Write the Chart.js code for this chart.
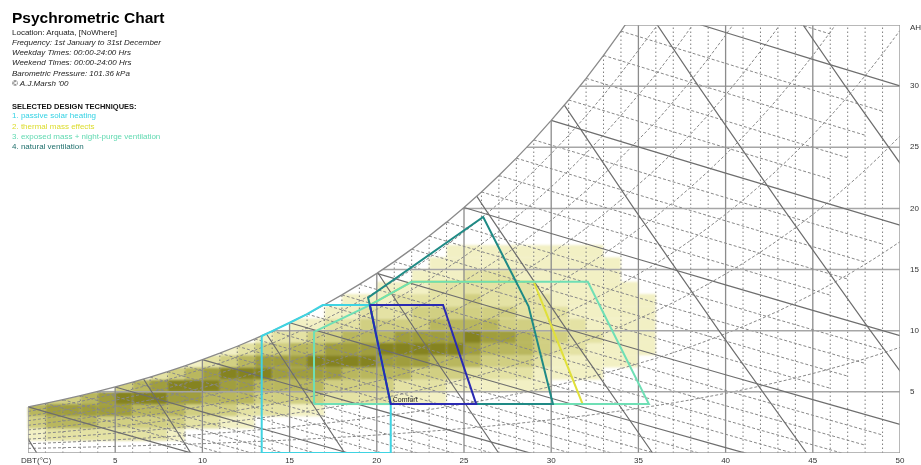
<!DOCTYPE html>
<html>
<head>
<meta charset="utf-8">
<title>Psychrometric Chart</title>
<script src="https://cdn.jsdelivr.net/npm/chart.js@4.4.1/dist/chart.umd.min.js"></script>
<style>
  html, body { margin:0; padding:0; background:#fff; }
  #wrap { position:relative; width:921px; height:465px; overflow:hidden; font-family:"Liberation Sans", Arial, sans-serif; }
  #chart { position:absolute; left:0; top:0; }
  .txt { position:absolute; left:12px; white-space:nowrap; line-height:1; font-size:8px; color:#222; }
  .i { font-style:italic; }
</style>
</head>
<body>
<div id="wrap">
  <canvas id="chart" width="921" height="465"></canvas>
  <div class="txt" style="top:10.2px;font-size:15.5px;font-weight:bold;color:#000;">Psychrometric Chart</div>
  <div class="txt" style="top:28.5px;">Location: Arquata, [NoWhere]</div>
  <div class="txt i" style="top:38.5px;">Frequency: 1st January to 31st December</div>
  <div class="txt i" style="top:48.5px;">Weekday Times: 00:00-24:00 Hrs</div>
  <div class="txt i" style="top:59px;">Weekend Times: 00:00-24:00 Hrs</div>
  <div class="txt i" style="top:69.7px;">Barometric Pressure: 101.36 kPa</div>
  <div class="txt i" style="top:79.7px;">© A.J.Marsh '00</div>
  <div class="txt" style="top:102.7px;font-weight:bold;font-size:7.5px;color:#111;">SELECTED DESIGN TECHNIQUES:</div>
  <div class="txt" style="top:112.4px;color:#34d2e4;">1. passive solar heating</div>
  <div class="txt" style="top:122.7px;color:#dcdc2c;">2. thermal mass effects</div>
  <div class="txt" style="top:132.7px;color:#62dab2;">3. exposed mass + night-purge ventilation</div>
  <div class="txt" style="top:142.7px;color:#1f6f6c;">4. natural ventilation</div>
</div>
<script>
// ---- axis ticks ----
const dbtTicks = [5, 10, 15, 20, 25, 30, 35, 40, 45, 50];
const ahTicks = [5, 10, 15, 20, 25, 30];

// ---- saturation moisture content (g/kg) at 101.36 kPa, per degree C ----
const satTemps = [0,1,2,3,4,5,6,7,8,9,10,11,12,13,14,15,16,17,18,19,20,21,22,23,24,25,
                  26,27,28,29,30,31,32,33,34,35,36,37,38,39,40,41,42,43,44,45,46,47,48,49,50];
const satAH = [3.77,4.06,4.36,4.69,5.03,5.40,5.79,6.21,6.65,7.13,7.63,8.16,8.73,9.33,9.97,
               10.65,11.36,12.12,12.93,13.79,14.69,15.65,16.67,17.74,18.88,20.08,21.35,22.69,
               24.11,25.61,27.20,28.87,30.64,32.51,34.50,36.60,38.69,41.02,43.48,46.07,48.81,
               51.70,54.76,57.99,61.40,65.00,68.82,72.86,77.11,81.62,86.39];

// ---- chart grid families ----
const rhLevels = [10, 20, 30, 40, 50, 60, 70, 80, 90];            // % saturation curves
const wetBulbTemps = [0,1,2,3,4,5,6,7,8,9,10,11,12,13,14,15,16,17,18,19,20,
                      21,22,23,24,25,26,27,28,29,30,31,32,33,34,35,36];
const volumeLevels = [0.775, 0.800, 0.825, 0.850, 0.875, 0.900, 0.925, 0.950];  // m3/kg
const pressure = 101.36;

// ---- hourly frequency, shade level per 1 C x 1 g/kg cell (row = g/kg, column = C) ----
const freqRows = [
  "000000000000000000000000000000000000",
  "122222221000000000000000000000000000",
  "344433333221100000000000000000000000",
  "455555444333222110000000000000000000",
  "033456665544433332222111000000000000",
  "000003456665544443333222111111000000",
  "000000023456665555444433322221111000",
  "000000000123455566665554443332111110",
  "000000000001233445556666654443221111",
  "000000000000012233444555565543322111",
  "000000000000000112233334444332221111",
  "000000000000000001122233333322211111",
  "000000000000000000111222232222111111",
  "000000000000000000001112222221111110",
  "000000000000000000000011122211111100",
  "000000000000000000000001111111111100",
  "000000000000000000000000111111111000"
];
const shadeColours = ["", "#f2f0c4", "#e4e2a4", "#d1cf82", "#b9b75e", "#a09e3e", "#858320"];

// ---- design technique zones (DBT C, AH g/kg) ----
const comfortZone   = [[19.6,12.1],[23.8,12.1],[25.7,4.0],[20.8,4.0]];
const passiveSolar  = [[13.4,0],[13.4,9.57],[14,9.97],[15,10.65],[16,11.36],[16.9,12.1],[19.6,12.1],[20.8,4.0],[20.8,0]];
const thermalMass   = [[20.8,4.0],[19.6,12.1],[22.0,14.0],[29.0,14.0],[31.8,4.0]];
const exposedMass   = [[16.4,4.0],[16.4,9.9],[19.6,12.1],[22.0,14.0],[32.1,14.0],[35.6,4.0]];
const naturalVent   = [[20.8,4.0],[19.6,12.1],[19.5,12.7],[26.1,19.3],[28.7,12.0],[30.1,4.0]];

const datasets = [];
function addLine(points, colour, width, dash, order, clipSat) {
  datasets.push({
    data: points, showLine: true, pointRadius: 0, borderColor: colour,
    borderWidth: width, borderDash: dash, order: order, clipSat: clipSat,
    tension: 0, fill: false
  });
}
function addZone(pairs, colour, order) {
  const pts = pairs.map(p => ({ x: p[0], y: p[1] }));
  pts.push({ x: pairs[0][0], y: pairs[0][1] });
  addLine(pts, colour, 2, [], order, false);
}

// zones, top-most first
addZone(comfortZone, "#2a2ab2", 0);
addZone(naturalVent, "#1f8a85", 1);
addZone(passiveSolar, "#3fd3e2", 2);
addZone(exposedMass, "#6fdfb5", 3);
addZone(thermalMass, "#e0e03a", 4);

// saturation curve and outline
addLine(satTemps.map((t, i) => ({ x: t, y: satAH[i] })), "#8a8a8a", 1.3, [], 9, false);
addLine([{x:0,y:0},{x:50,y:0}], "#a0a0a0", 1.5, [], 9, false);
addLine([{x:50,y:0},{x:50,y:35}], "#a0a0a0", 1.5, [], 9, false);
addLine([{x:0,y:35},{x:50,y:35}], "#a0a0a0", 1.5, [], 9, true);
addLine([{x:0,y:0},{x:0,y:satAH[0]}], "#a0a0a0", 1.5, [], 9, false);

// dry-bulb verticals
for (let t = 1; t < 50; t++) {
  const major = t % 5 === 0;
  addLine([{x:t,y:0},{x:t,y:35}], major ? "#8c8c8c" : "#7e7e7e", major ? 1.3 : 1,
          major ? [] : [1.5, 2.5], major ? 12 : 14, true);
}
// moisture content horizontals
ahTicks.forEach(w => addLine([{x:0,y:w},{x:50,y:w}], "#a6a6a6", 1.5, [], 12, true));

// percentage saturation curves
rhLevels.forEach(rh => {
  addLine(satTemps.map((t, i) => ({ x: t, y: satAH[i] * rh / 100 })), "#888", 1, [3, 2], 13, true);
});

// wet-bulb lines
wetBulbTemps.forEach(tw => {
  const ws = satAH[tw];
  const pts = [];
  for (let t = tw; t <= 50.001; t += 5) {
    const w = ((2501 - 2.326 * tw) * ws - 1006 * (t - tw)) / (2501 + 1.86 * t - 4.186 * tw);
    pts.push({ x: t, y: w });
  }
  const major = tw % 5 === 0;
  addLine(pts, major ? "#6e6e6e" : "#888", major ? 1.2 : 1, major ? [] : [3, 2], major ? 11 : 13, true);
});

// specific volume lines
volumeLevels.forEach(v => {
  const pts = [];
  for (let w = 0; w <= 40; w += 10) {
    pts.push({ x: v * pressure / (0.287055 * (1 + 1.6078 * w / 1000)) - 273.15, y: w });
  }
  addLine(pts, "#6e6e6e", 1.2, [], 11, true);
});

// region under the saturation curve
function saturationPath(chart) {
  const { ctx, chartArea: a } = chart;
  const { x, y } = chart.scales;
  ctx.beginPath();
  ctx.moveTo(a.left - 3, a.bottom + 3);
  ctx.lineTo(a.left - 3, y.getPixelForValue(satAH[0]));
  satTemps.forEach((t, i) => ctx.lineTo(x.getPixelForValue(t), y.getPixelForValue(satAH[i])));
  ctx.lineTo(a.right + 3, y.getPixelForValue(satAH[satAH.length - 1]));
  ctx.lineTo(a.right + 3, a.bottom + 3);
  ctx.closePath();
}

const satClipPlugin = {
  id: "satClip",
  beforeDatasetDraw(chart, args) {
    if (chart.data.datasets[args.index].clipSat) {
      chart.ctx.save();
      saturationPath(chart);
      chart.ctx.clip();
    }
  },
  afterDatasetDraw(chart, args) {
    if (chart.data.datasets[args.index].clipSat) chart.ctx.restore();
  }
};

const shadePlugin = {
  id: "frequencyShade",
  beforeDatasetsDraw(chart) {
    const { ctx } = chart;
    const { x, y } = chart.scales;
    const off = document.createElement("canvas");
    off.width = chart.width; off.height = chart.height;
    const o = off.getContext("2d");
    freqRows.forEach((row, w) => {
      for (let t = 0; t < row.length; t++) {
        const lv = +row[t];
        if (!lv) continue;
        const x0 = x.getPixelForValue(t), x1 = x.getPixelForValue(t + 1);
        const y0 = y.getPixelForValue(w + 1), y1 = y.getPixelForValue(w);
        o.fillStyle = shadeColours[lv];
        o.fillRect(x0, y0, x1 - x0, y1 - y0);
      }
    });
    ctx.save();
    saturationPath(chart);
    ctx.clip();
    ctx.filter = "blur(1px)";
    ctx.drawImage(off, 0, 0);
    ctx.restore();
  }
};

const labelPlugin = {
  id: "axisLabels",
  afterDraw(chart) {
    const { ctx } = chart;
    const { x, y } = chart.scales;
    ctx.save();
    ctx.fillStyle = "#333";
    ctx.font = '8px "Liberation Sans", Arial, sans-serif';
    ctx.textAlign = "center";
    ctx.textBaseline = "alphabetic";
    dbtTicks.forEach(t => ctx.fillText(String(t), x.getPixelForValue(t), 463));
    ctx.textAlign = "left";
    ctx.fillText("DBT(°C)", 21, 463);
    ctx.textBaseline = "middle";
    ahTicks.forEach(w => ctx.fillText(String(w), 910, y.getPixelForValue(w)));
    ctx.fillText("AH", 910, 28);
    ctx.font = '7px "Liberation Sans", Arial, sans-serif';
    ctx.fillStyle = "#222";
    ctx.textBaseline = "alphabetic";
    ctx.fillText("Comfort", x.getPixelForValue(comfortZone[3][0]) + 2, y.getPixelForValue(comfortZone[3][1]) - 2);
    ctx.restore();
  }
};

new Chart(document.getElementById("chart"), {
  type: "scatter",
  data: { datasets },
  options: {
    responsive: false,
    animation: false,
    events: [],
    layout: { padding: { left: 28, right: 21, top: 25, bottom: 12 } },
    scales: {
      x: { type: "linear", min: 0, max: 50, display: false },
      y: { type: "linear", min: 0, max: 35, display: false }
    },
    plugins: { legend: { display: false }, tooltip: { enabled: false } }
  },
  plugins: [shadePlugin, satClipPlugin, labelPlugin]
});
</script>
</body>
</html>
